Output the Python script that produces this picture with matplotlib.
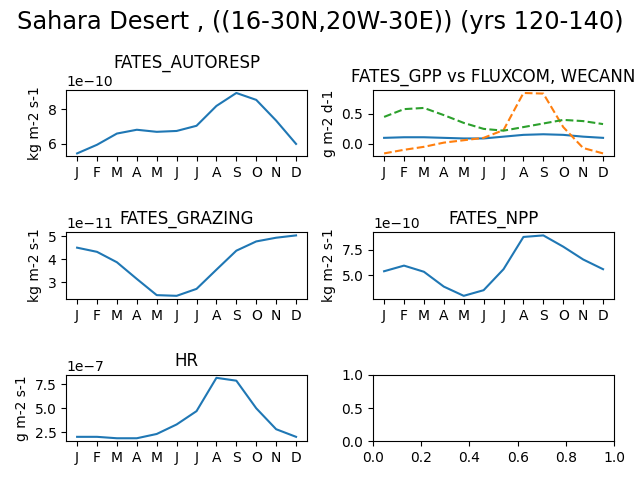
import matplotlib
matplotlib.use('Agg')
import matplotlib.pyplot as plt

months = ['J', 'F', 'M', 'A', 'M', 'J', 'J', 'A', 'S', 'O', 'N', 'D']

# valores
autoresp = [5.45, 5.95, 6.6, 6.82, 6.7, 6.75, 7.05, 8.2, 8.95, 8.55, 7.35, 6.0]  # 1e-10
gpp_fates = [0.10, 0.11, 0.11, 0.10, 0.09, 0.09, 0.12, 0.15, 0.16, 0.15, 0.12, 0.10]
gpp_fluxcom = [-0.16, -0.10, -0.05, 0.02, 0.06, 0.10, 0.23, 0.85, 0.84, 0.28, -0.07, -0.16]
gpp_wecann = [0.45, 0.58, 0.60, 0.48, 0.35, 0.25, 0.22, 0.28, 0.34, 0.40, 0.38, 0.33]
grazing = [4.5, 4.32, 3.87, 3.15, 2.45, 2.42, 2.72, 3.55, 4.37, 4.77, 4.93, 5.03]  # 1e-11
npp = [5.4, 5.95, 5.35, 3.9, 3.0, 3.55, 5.6, 8.75, 8.9, 7.8, 6.55, 5.6]  # 1e-10
hr = [2.0, 2.0, 1.85, 1.85, 2.3, 3.3, 4.7, 8.2, 7.9, 5.0, 2.8, 2.0]  # 1e-7

x = list(range(12))

fig, axs = plt.subplots(3, 2, figsize=(6.4, 4.8))
fig.suptitle('Sahara Desert , ((16-30N,20W-30E)) (yrs 120-140)', fontsize='xx-large')

def panel(ax, vals, scale, title, unit, pad=6.0):
    ax.plot(x, [v * scale for v in vals])
    ax.set_title(title, pad=pad)
    ax.set_ylabel(unit)
    ax.set_xticks(x)
    ax.set_xticklabels(months)

# el titulo queda por encima del offset "1e-10"
panel(axs[0, 0], autoresp, 1e-10, 'FATES_AUTORESP', 'kg m-2 s-1', pad=16)

ax = axs[0, 1]
ax.plot(x, gpp_fates)
ax.plot(x, gpp_fluxcom, '--')
ax.plot(x, gpp_wecann, '--')
ax.set_title('FATES_GPP vs FLUXCOM, WECANN')
ax.set_ylabel('g m-2 d-1')
ax.set_xticks(x)
ax.set_xticklabels(months)

panel(axs[1, 0], grazing, 1e-11, 'FATES_GRAZING', 'kg m-2 s-1')
panel(axs[1, 1], npp, 1e-10, 'FATES_NPP', 'kg m-2 s-1')
panel(axs[2, 0], hr, 1e-7, 'HR', 'g m-2 s-1')

plt.tight_layout()
plt.savefig('out.png', dpi=100)
